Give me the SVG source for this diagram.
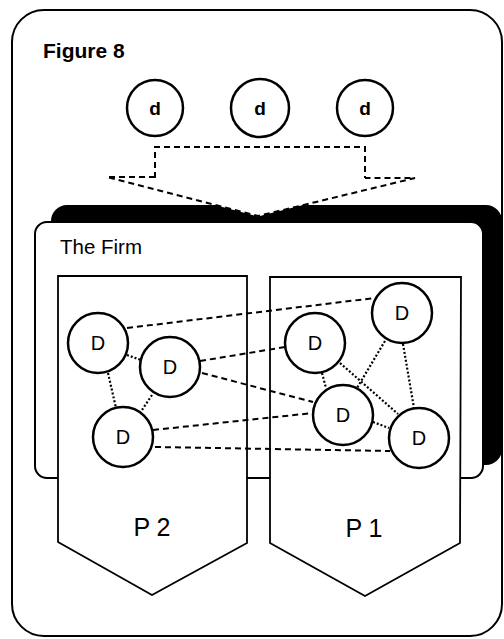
<svg xmlns="http://www.w3.org/2000/svg" width="504" height="639" viewBox="0 0 504 639">
<style>
.t{font-family:"Liberation Sans",Arial,sans-serif;fill:#000}
.big{fill:#fff;stroke:#000;stroke-width:2.5}
.dash{fill:none;stroke:#000;stroke-width:2;stroke-dasharray:6 4}
.dot{fill:none;stroke:#000;stroke-width:2.2;stroke-dasharray:2 2}
.pent{fill:#fff;stroke:#000;stroke-width:1.8}
</style>
<rect width="504" height="639" fill="#fff"/>
<g id="frame">
<rect x="12" y="10" width="490" height="626" rx="32" fill="#fff" stroke="#000" stroke-width="2"/>
<text class="t" x="43" y="58" font-size="21" font-weight="bold">Figure 8</text>
</g>
<g id="small-d">
<g id="d1"><circle class="big" cx="155" cy="108" r="28"/><text class="t" x="155" y="115" font-size="19" font-weight="bold" text-anchor="middle">d</text></g>
<g id="d2"><circle class="big" cx="260" cy="108" r="29"/><text class="t" x="260" y="115" font-size="19" font-weight="bold" text-anchor="middle">d</text></g>
<g id="d3"><circle class="big" cx="365" cy="108" r="28"/><text class="t" x="365" y="115" font-size="19" font-weight="bold" text-anchor="middle">d</text></g>
</g>
<g id="funnel">
<path class="dash" d="M155 178 V147 H365 V178 M155 177 H107 L258 216 L415 178 H365"/>
</g>
<g id="firm">
<path d="M67 205 H215 L258 216.5 L303 205 H486 A16 16 0 0 1 502 221 V449 A16 16 0 0 1 486 465 H67 A16 16 0 0 1 51 449 V221 A16 16 0 0 1 67 205 Z" fill="#000"/>
<rect x="35" y="222" width="448" height="256" rx="12" fill="#fff" stroke="#000" stroke-width="2"/>
<text class="t" x="60" y="254" font-size="20.5">The Firm</text>
</g>
<g id="p2"><polygon class="pent" points="58,276 247,276 247,543 152,595 58,542"/><text class="t" x="152" y="536" font-size="25" text-anchor="middle">P 2</text></g>
<g id="p1"><polygon class="pent" points="270,277 461,277 460,543 365,596 270,543"/><text class="t" x="364" y="537" font-size="25" text-anchor="middle">P 1</text></g>
<g id="connectors">
<line class="dash" x1="127" y1="328" x2="375" y2="298"/>
<line class="dash" x1="200" y1="361" x2="285" y2="347"/>
<line class="dash" x1="202" y1="373" x2="313" y2="402"/>
<line class="dash" x1="153" y1="430" x2="313" y2="413"/>
<line class="dash" x1="155" y1="447" x2="390" y2="451"/>
<line class="dot" x1="127" y1="355" x2="141" y2="360"/>
<line class="dot" x1="108" y1="373" x2="116" y2="408"/>
<line class="dot" x1="152" y1="395" x2="142" y2="410"/>
<line class="dot" x1="322" y1="373" x2="326" y2="388"/>
<line class="dot" x1="340" y1="363" x2="398" y2="414"/>
<line class="dot" x1="385" y1="341" x2="357" y2="388"/>
<line class="dot" x1="403" y1="344" x2="414" y2="408"/>
<line class="dot" x1="373" y1="422" x2="389" y2="428"/>
</g>
<g id="nodes">
<g id="n1"><circle class="big" cx="98" cy="343" r="30"/><text class="t" x="98" y="350" font-size="20" text-anchor="middle">D</text></g>
<g id="n2"><circle class="big" cx="170" cy="367" r="30"/><text class="t" x="170" y="374" font-size="20" text-anchor="middle">D</text></g>
<g id="n3"><circle class="big" cx="123" cy="437" r="30"/><text class="t" x="123" y="444" font-size="20" text-anchor="middle">D</text></g>
<g id="n4"><circle class="big" cx="402" cy="313" r="30"/><text class="t" x="402" y="320" font-size="20" text-anchor="middle">D</text></g>
<g id="n5"><circle class="big" cx="315" cy="343" r="30"/><text class="t" x="315" y="350" font-size="20" text-anchor="middle">D</text></g>
<g id="n6"><circle class="big" cx="343" cy="415" r="30"/><text class="t" x="343" y="422" font-size="20" text-anchor="middle">D</text></g>
<g id="n7"><circle class="big" cx="419" cy="438" r="30"/><text class="t" x="419" y="445" font-size="20" text-anchor="middle">D</text></g>
</g>
</svg>
